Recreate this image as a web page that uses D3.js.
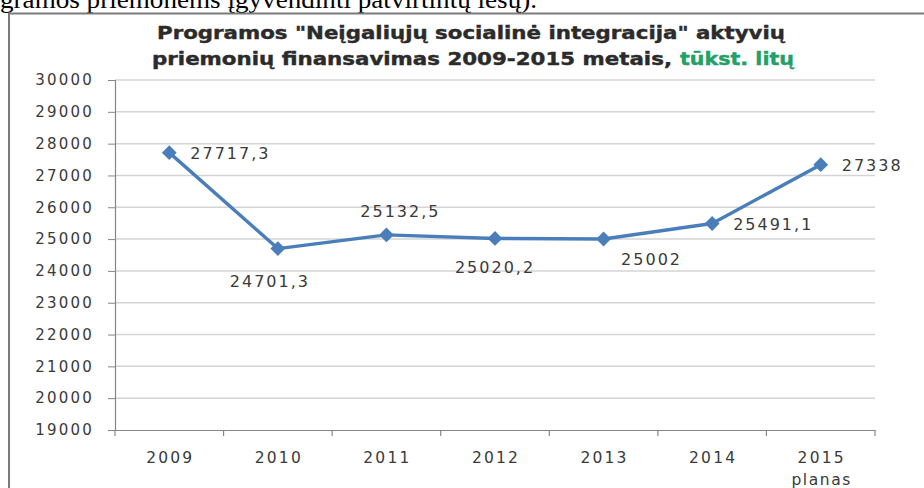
<!DOCTYPE html>
<html>
<head>
<meta charset="utf-8">
<script src="https://cdn.jsdelivr.net/npm/d3@7"></script>
<style>
  html, body { margin: 0; padding: 0; background: #fff; overflow: hidden; }
  svg { display: block; }
</style>
</head>
<body>
<svg id="chart" width="924" height="488"></svg>
<script>
// ---- data ----
const categories = ["2009", "2010", "2011", "2012", "2013", "2014", "2015"];
const categorySub = ["", "", "", "", "", "", "planas"];
const values = [27717.3, 24701.3, 25132.5, 25020.2, 25002, 25491.1, 27338];
const valueLabels = ["27717,3", "24701,3", "25132,5", "25020,2", "25002", "25491,1", "27338"];
const yTicks = [19000, 20000, 21000, 22000, 23000, 24000, 25000, 26000, 27000, 28000, 29000, 30000];
const titleLine1 = "Programos \"Neįgaliųjų socialinė integracija\" aktyvių";
const titleLine2a = "priemonių finansavimas 2009-2015 metais,";
const titleLine2b = "tūkst. litų";
const pageText = "gramos priemonėms įgyvendinti patvirtintų lėšų).";
// label placement keyword per point (layout, not data)
const labelPlacement = ["right", "below", "above", "belowCenter", "belowRight", "right", "right"];

// ---- layout ----
const svg = d3.select("#chart");
const plot = { left: 115, right: 875, top: 80, bottom: 430 };
const textColor = "#3a3a3a";
const lineColor = "#4a7ebb";

// page text above chart (cut off by the page edge, as in the source)
svg.append("text")
  .attr("x", 0).attr("y", 8)
  .attr("font-family", "'Liberation Serif', 'Times New Roman', serif")
  .attr("font-size", 26)
  .attr("fill", "#000")
  .attr("textLength", 537).attr("lengthAdjust", "spacingAndGlyphs")
  .text(pageText);

// chart frame
svg.append("rect")
  .attr("x", 9).attr("y", 13.5).attr("width", 1000).attr("height", 600)
  .attr("fill", "#fff").attr("stroke", "#7a7a7a").attr("stroke-width", 2);

// scales
const x = d3.scaleBand().domain(categories).range([plot.left, plot.right]).padding(0);
const y = d3.scaleLinear().domain([19000, 30000]).range([plot.bottom, plot.top]);

// gridlines
svg.append("g").selectAll("line").data(yTicks.filter(d => d !== 19000)).join("line")
  .attr("x1", plot.left).attr("x2", plot.right)
  .attr("y1", d => y(d)).attr("y2", d => y(d))
  .attr("stroke", "#d4d4d4").attr("stroke-width", 1.5);

// y axis
const yAxis = d3.axisLeft(y).tickValues(yTicks).tickSize(7).tickPadding(14).tickFormat(d3.format("d"));
const gy = svg.append("g").attr("transform", `translate(${plot.left},0)`).call(yAxis);
gy.select(".domain").attr("stroke", "#868686").attr("stroke-width", 1.2);
gy.selectAll(".tick line").attr("stroke", "#868686");
gy.selectAll(".tick text")
  .attr("font-family", "'DejaVu Sans', sans-serif")
  .attr("font-size", 15)
  .attr("letter-spacing", "2.2px")
  .attr("fill", textColor);

// x axis
const xAxis = d3.axisBottom(x).tickSize(0).tickFormat("");
const gx = svg.append("g").attr("transform", `translate(0,${plot.bottom})`).call(xAxis);
gx.select(".domain").attr("stroke", "#868686").attr("stroke-width", 1.2);
// boundary ticks
const bounds = categories.map(c => x(c)).concat([plot.right]);
svg.append("g").selectAll("line").data(bounds).join("line")
  .attr("x1", d => d).attr("x2", d => d)
  .attr("y1", plot.bottom).attr("y2", plot.bottom + 6)
  .attr("stroke", "#868686").attr("stroke-width", 1.2);

const xl = svg.append("g");
xl.selectAll("text.cat").data(categories).join("text")
  .attr("class", "cat")
  .attr("x", d => x(d) + x.bandwidth() / 2 + 1)
  .attr("y", 463)
  .attr("text-anchor", "middle")
  .attr("font-family", "'DejaVu Sans', sans-serif")
  .attr("font-size", 15.5)
  .attr("letter-spacing", "2.2px")
  .attr("fill", textColor)
  .text(d => d);
xl.selectAll("text.sub").data(categories.map((c, i) => ({ c, s: categorySub[i] })).filter(d => d.s)).join("text")
  .attr("class", "sub")
  .attr("x", d => x(d.c) + x.bandwidth() / 2 + 1)
  .attr("y", 485)
  .attr("text-anchor", "middle")
  .attr("font-family", "'DejaVu Sans', sans-serif")
  .attr("font-size", 15.5)
  .attr("letter-spacing", "1.6px")
  .attr("fill", textColor)
  .text(d => d.s);

// line
const pts = categories.map((c, i) => ({ c, v: values[i], label: valueLabels[i], pos: labelPlacement[i] }));
const cx = d => x(d.c) + x.bandwidth() / 2;
svg.append("path")
  .datum(pts)
  .attr("fill", "none")
  .attr("stroke", lineColor)
  .attr("stroke-width", 3.4)
  .attr("stroke-linejoin", "round")
  .attr("d", d3.line().x(cx).y(d => y(d.v)));

// markers (diamonds)
svg.append("g").selectAll("path").data(pts).join("path")
  .attr("transform", d => `translate(${cx(d)},${y(d.v)}) rotate(45)`)
  .attr("d", d3.symbol().type(d3.symbolSquare).size(110))
  .attr("fill", lineColor);

// data labels
const offsets = {
  right: { dx: 21, dy: 1, anchor: "start" },
  below: { dx: -8, dy: 33, anchor: "middle" },
  belowCenter: { dx: 0, dy: 29, anchor: "middle" },
  above: { dx: 14, dy: -23, anchor: "middle" },
  belowRight: { dx: 48, dy: 20, anchor: "middle" }
};
svg.append("g").selectAll("text").data(pts).join("text")
  .attr("x", d => cx(d) + offsets[d.pos].dx)
  .attr("y", d => y(d.v) + offsets[d.pos].dy)
  .attr("text-anchor", d => offsets[d.pos].anchor)
  .attr("dominant-baseline", "central")
  .attr("font-family", "'DejaVu Sans', sans-serif")
  .attr("font-size", 16)
  .attr("letter-spacing", "2px")
  .attr("fill", textColor)
  .text(d => d.label);

// title
const titleFont = "'DejaVu Sans', sans-serif";
function titleText(tx, ty, len, color, str) {
  svg.append("text")
    .attr("x", tx).attr("y", ty)
    .attr("font-family", titleFont).attr("font-weight", "bold").attr("font-size", 17)
    .attr("fill", color).attr("stroke", color).attr("stroke-width", 0.4)
    .attr("textLength", len).attr("lengthAdjust", "spacingAndGlyphs")
    .text(str);
}
titleText(157, 39, 628, "#2b2b2b", titleLine1);
titleText(152, 65, 520, "#2b2b2b", titleLine2a);
titleText(680, 65, 114, "#22a065", titleLine2b);
</script>
</body>
</html>
